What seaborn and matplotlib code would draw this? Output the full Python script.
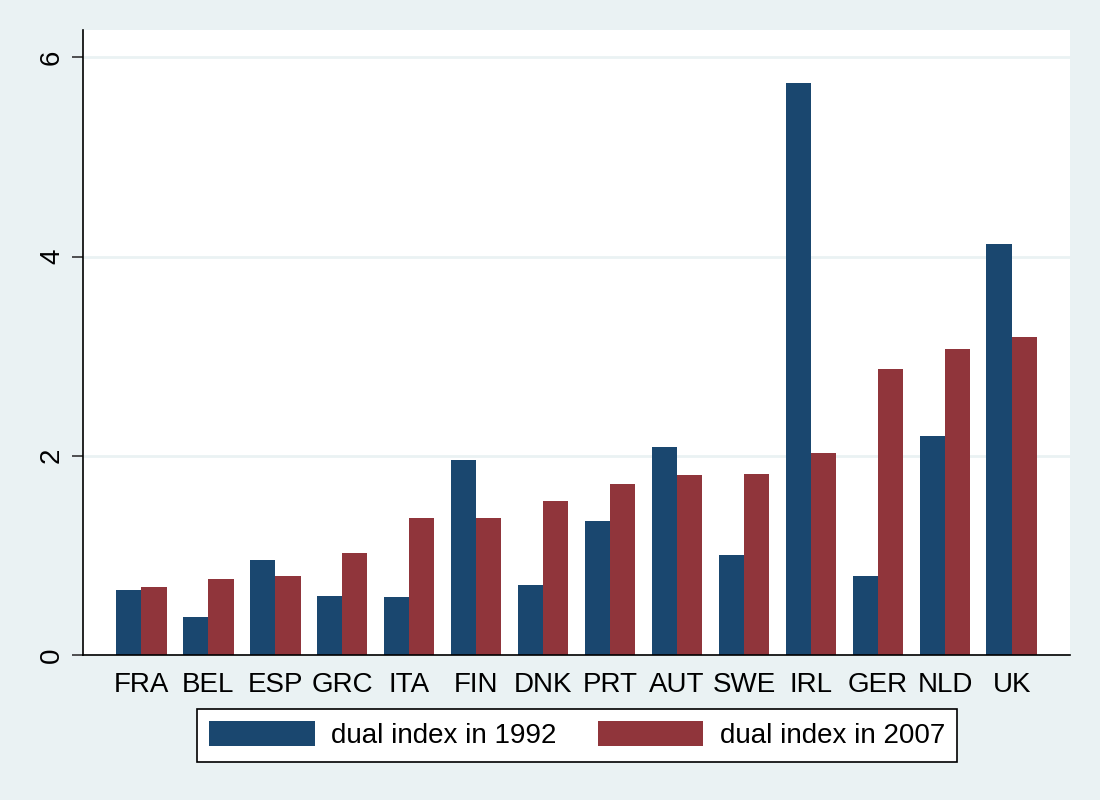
import pandas as pd
import seaborn as sns
import matplotlib.pyplot as plt

# Values
countries = ["FRA", "BEL", "ESP", "GRC", "ITA", "FIN", "DNK",
             "PRT", "AUT", "SWE", "IRL", "GER", "NLD", "UK"]
dual_1992 = [0.65, 0.38, 0.95, 0.59, 0.58, 1.96, 0.70,
             1.35, 2.09, 1.00, 5.74, 0.79, 2.20, 4.13]
dual_2007 = [0.68, 0.76, 0.79, 1.02, 1.38, 1.38, 1.55,
             1.72, 1.81, 1.82, 2.03, 2.87, 3.07, 3.19]
series = ["dual index in 1992", "dual index in 2007"]

df = pd.DataFrame({"country": countries * 2,
                   "value": dual_1992 + dual_2007,
                   "series": [series[0]] * len(countries) + [series[1]] * len(countries)})

bg = "#EAF2F3"
navy = "#1A476F"
maroon = "#90353B"

sns.set_style("white")
plt.rcParams['font.family'] = ['Liberation Sans', 'DejaVu Sans']
plt.rcParams['text.color'] = "black"
plt.rcParams['xtick.color'] = "black"
plt.rcParams['ytick.color'] = "black"

fig = plt.figure(figsize=(11, 8), dpi=100, facecolor=bg)
ax = fig.add_axes([0.0755, 0.18125, 0.8972, 0.78125])
ax.set_facecolor("white")

sns.barplot(data=df, x="country", y="value", hue="series", order=countries,
            hue_order=series, palette=[navy, maroon], saturation=1,
            width=0.76, linewidth=0, ax=ax)

ax.set_ylim(0, 6.275)
ax.set_xlim(-0.866, len(countries) - 1 + 0.866)
ax.set_yticks([0, 2, 4, 6])
ax.yaxis.grid(True, color=bg, linewidth=2)
ax.set_axisbelow(True)
ax.set_xlabel("")
ax.set_ylabel("")

for side in ["top", "right"]:
    ax.spines[side].set_visible(False)
for side in ["left", "bottom"]:
    ax.spines[side].set_color("black")
    ax.spines[side].set_linewidth(1.2)

ax.tick_params(axis="y", which="both", left=True, length=8, width=1.2,
               direction="out", pad=5, labelsize=20, color="#333333",
               labelcolor="black")
ax.tick_params(axis="x", length=0, pad=12, labelsize=20, labelcolor="black")
for lbl in ax.get_yticklabels():
    lbl.set_rotation(90)
    lbl.set_va("center")

handles, labels = ax.get_legend_handles_labels()
ax.get_legend().remove()
leg = fig.legend(handles, labels, loc="center", bbox_to_anchor=(0.5245, 0.081),
                 ncol=2, fontsize=20, frameon=True, fancybox=False, framealpha=1,
                 handlelength=3.8, handleheight=1.0, handletextpad=0.58,
                 columnspacing=1.5, borderpad=0.45, labelcolor="black")
leg.get_frame().set_edgecolor("black")
leg.get_frame().set_linewidth(1.2)
leg.get_frame().set_facecolor("white")

fig.savefig("out.png", dpi=100, facecolor=bg)
